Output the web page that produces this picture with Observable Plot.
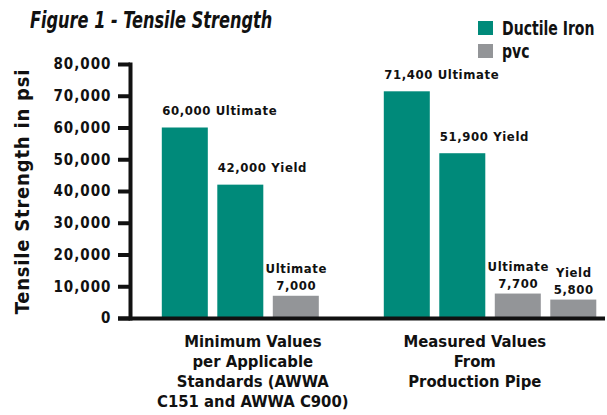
<!DOCTYPE html>
<html><head><meta charset="utf-8">
<script src="https://cdn.jsdelivr.net/npm/d3@7"></script>
<script src="https://cdn.jsdelivr.net/npm/@observablehq/plot@0.6"></script>
<style>
body{margin:0;background:#fff}
#wrap{position:relative;width:607px;height:415px;font-family:"DejaVu Sans Condensed","DejaVu Sans",sans-serif;font-stretch:condensed;font-weight:bold;color:#111}
#chart{position:absolute;left:0;top:0}
#title{position:absolute;left:30px;top:6px;font-size:23px;font-style:italic;transform:scaleX(0.78);transform-origin:left top;white-space:nowrap;line-height:28px}
.leg{position:absolute;left:478px;display:flex;align-items:center;height:14px;white-space:nowrap}
.sw{width:15px;height:14px;margin-right:9px;flex:none}
.lt{display:inline-block;font-size:20px;transform:scaleX(0.78);transform-origin:left center;line-height:14px}
g[aria-description="vlabel"] text{letter-spacing:0.6px}
g[aria-label="y-axis tick label"] text{letter-spacing:1px}
g[aria-description="ylabel"] text{letter-spacing:0.8px}
</style></head>
<body><div id="wrap"><div id="chart"></div><div id="title"></div><div id="legend"></div></div>
<script>
// ---- data ----
const titleText = "Figure 1 - Tensile Strength";
const yLabel = "Tensile Strength in psi";
const groupKeys = ["Minimum", "Measured"];
const groupLabels = [
  "Minimum Values\nper Applicable\nStandards (AWWA\nC151 and AWWA C900)",
  "Measured Values\nFrom\nProduction Pipe"
];
const materials = ["Ductile Iron", "pvc"];
const types = ["Ultimate", "Yield"];
const barGroup = ["Minimum", "Minimum", "Minimum", "Measured", "Measured", "Measured", "Measured"];
const barMaterial = ["Ductile Iron", "Ductile Iron", "pvc", "Ductile Iron", "Ductile Iron", "pvc", "pvc"];
const barType = ["Ultimate", "Yield", "Ultimate", "Ultimate", "Yield", "Ultimate", "Yield"];
const barValue = [60000, 42000, 7000, 71400, 51900, 7700, 5800];
const yTicks = [0, 10000, 20000, 30000, 40000, 50000, 60000, 70000, 80000];
const colors = ["#008A7A", "#939598"];

// ---- build ----
const FONT = '"DejaVu Sans Condensed","DejaVu Sans",sans-serif';
const fmt = d3.format(",");
const slot = (g, m, t) => `${g}|${m}|${t}`;
const bars = barValue.map((v, i) => ({
  group: barGroup[i], material: barMaterial[i], type: barType[i], value: v,
  key: slot(barGroup[i], barMaterial[i], barType[i])
}));
const domain = groupKeys.flatMap(g => materials.flatMap(m => types.map(t => slot(g, m, t))));
const groupRows = groupKeys.map((g, i) => ({key: slot(g, materials[0], types[1]), label: groupLabels[i]}));

document.getElementById("title").textContent = titleText;
const legend = document.getElementById("legend");
materials.forEach((m, i) => {
  const row = document.createElement("div");
  row.className = "leg";
  row.style.top = (21 + i * 23) + "px";
  const sw = document.createElement("div");
  sw.className = "sw";
  sw.style.background = colors[i];
  const t = document.createElement("span");
  t.className = "lt";
  t.textContent = m;
  row.append(sw, t);
  legend.append(row);
});

const chart = Plot.plot({
  width: 607, height: 415,
  marginTop: 64, marginBottom: 97, marginLeft: 130, marginRight: 2,
  style: {fontFamily: FONT, fontWeight: "bold", color: "#111", background: "transparent", overflow: "visible"},
  x: {domain, axis: null, paddingInner: 0.171, paddingOuter: 0.365, align: 0.785, round: false},
  y: {domain: [0, 80000], axis: null},
  color: {domain: materials, range: colors},
  marks: [
    Plot.barY(bars, {x: "key", y: "value", fill: "material"}),
    Plot.axisY({ticks: yTicks, tickFormat: fmt, tickSize: 12, tickPadding: 7, strokeWidth: 4, fontSize: 15, label: null}),
    Plot.frame({anchor: "left", strokeWidth: 4}),
    Plot.ruleY([0], {strokeWidth: 4, insetLeft: -12}),
    Plot.text(bars.filter(d => d.material === materials[0]), {
      x: "key", y: "value", text: d => `${fmt(d.value)} ${d.type}`,
      textAnchor: "start", dx: -23, dy: -17, fontSize: 13, ariaDescription: "vlabel"
    }),
    Plot.text(bars.filter(d => d.material === materials[1]), {
      x: "key", y: "value", text: d => `${d.type}\n${fmt(d.value)}`,
      textAnchor: "middle", lineAnchor: "bottom", lineHeight: 1.35, dy: -6, fontSize: 13, ariaDescription: "vlabel"
    }),
    Plot.text(groupRows, {
      x: "key", text: "label", frameAnchor: "bottom", lineAnchor: "top",
      lineHeight: 1.22, dy: 14, dx: 12, fontSize: 16.5
    }),
    Plot.text([yLabel], {frameAnchor: "left", textAnchor: "middle", rotate: -90, dx: -108, fontSize: 20, ariaDescription: "ylabel"})
  ]
});
document.getElementById("chart").append(chart);
</script>
</body></html>
